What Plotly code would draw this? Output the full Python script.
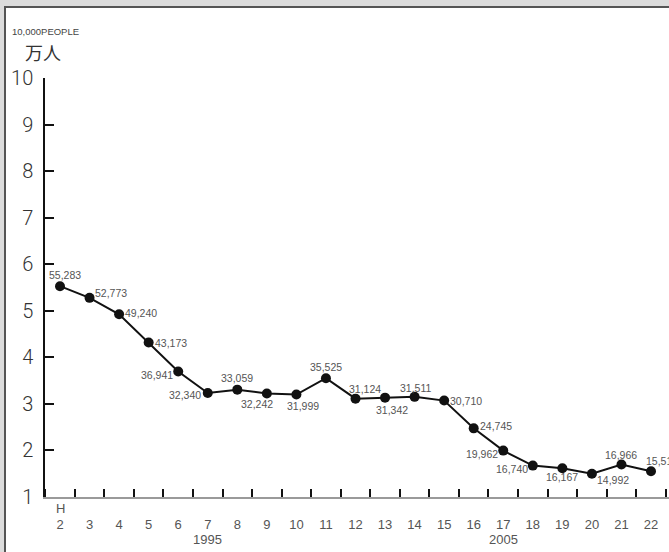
import plotly.graph_objects as go

# Heisei year (H2 .. H22)
years = list(range(2, 23))
# number of people
people = [55283, 52773, 49240, 43173, 36941, 32340, 33059, 32242, 31999, 35525,
          31124, 31342, 31511, 30710, 24745, 19962, 16740, 16167, 14992, 16966, 15519]
# label placement (pixel offsets from the point)
label_dx = [5, 21, 22, 22, -21, -23, 0, -10, 7, 0, 9, 7, 1, 22, 22, -21, -21, 0, 21, 0, 11]
label_dy = [11, 5, 1, 0, -3, -2, 12, -11, -11, 11, 10, -12, 9, 0, 2, -3, -3, -9, -6, 10, 10]
y_ticks = list(range(1, 11))
era_marks = [(2, "H"), (7, "1995"), (17, "2005")]

values = [p / 10000 for p in people]
labels = [f"{p:,}" for p in people]

NARROW = "Liberation Sans Narrow, Liberation Sans, sans-serif"
LIGHT = "Roboto, Liberation Sans, sans-serif"

fig = go.Figure()
fig.add_trace(go.Scatter(
    x=years, y=values, mode="lines+markers",
    line=dict(color="#111111", width=2),
    marker=dict(color="#111111", size=10),
    cliponaxis=False, hoverinfo="skip", showlegend=False,
))

for xv, yv, txt, dx, dy in zip(years, values, labels, label_dx, label_dy):
    fig.add_annotation(x=xv, y=yv, text=txt, showarrow=False,
                       xanchor="center", yanchor="middle", xshift=dx, yshift=dy,
                       font=dict(family=NARROW, size=10.5, color="#555555"))

L, T, B = 45, 78, 55
W, H = 669, 552
pw, ph = W - L, H - T - B
px_unit = 29.55
x0 = 2 - 15 / px_unit
x1 = x0 + pw / px_unit

fig.update_layout(
    width=W, height=H,
    margin=dict(l=L, r=0, t=T, b=B, pad=0),
    paper_bgcolor="#dcdcdc", plot_bgcolor="white",
    xaxis=dict(
        range=[x0, x1], showgrid=False, zeroline=False,
        showline=True, linecolor="#9a9a9a", linewidth=2,
        tickvals=years, ticktext=[str(v) for v in years],
        ticks="", ticklabelstandoff=14,
        tickfont=dict(family=NARROW, size=13, color="#555555"),
        minor=dict(tick0=2.5, dtick=1, ticks="inside", ticklen=8, tickwidth=1.5,
                   tickcolor="#111111", showgrid=False),
    ),
    yaxis=dict(
        range=[1, 10], showgrid=False, zeroline=False,
        showline=True, linecolor="#111111", linewidth=1.5,
        tickvals=y_ticks, ticks="inside", ticklen=9, tickwidth=1.5, tickcolor="#111111",
        ticklabelstandoff=6,
        tickfont=dict(family=LIGHT, size=20, color="#333333", weight=300),
    ),
)

# white panel with dark border
fig.add_shape(type="rect", xref="paper", yref="paper",
              x0=(5 - L) / pw, x1=1.05, y0=-0.2, y1=(H - B - 7) / ph,
              fillcolor="white", line=dict(color="#555555", width=2), layer="below")

for xv, txt in era_marks:
    dy = -11 if txt == "H" else -42
    fig.add_annotation(x=xv, y=0, yref="paper", text=txt, showarrow=False,
                       yshift=dy, yanchor="middle",
                       font=dict(family=NARROW, size=13, color="#555555"))

fig.add_annotation(x=(10 - L) / pw, y=(H - B - 32) / ph, xref="paper", yref="paper",
                   text="10,000PEOPLE", showarrow=False, xanchor="left", yanchor="middle",
                   font=dict(family=NARROW, size=9.5, color="#444444"))
fig.add_annotation(x=(43 - L) / pw, y=(H - B - 52) / ph, xref="paper", yref="paper",
                   text="万人", showarrow=False, xanchor="center", yanchor="middle",
                   font=dict(family="Noto Sans CJK JP", size=18, color="#333333"))

fig.write_html("out.html", config={"displayModeBar": False},
               post_script="document.body.style.margin='0';document.body.style.overflow='hidden';")
